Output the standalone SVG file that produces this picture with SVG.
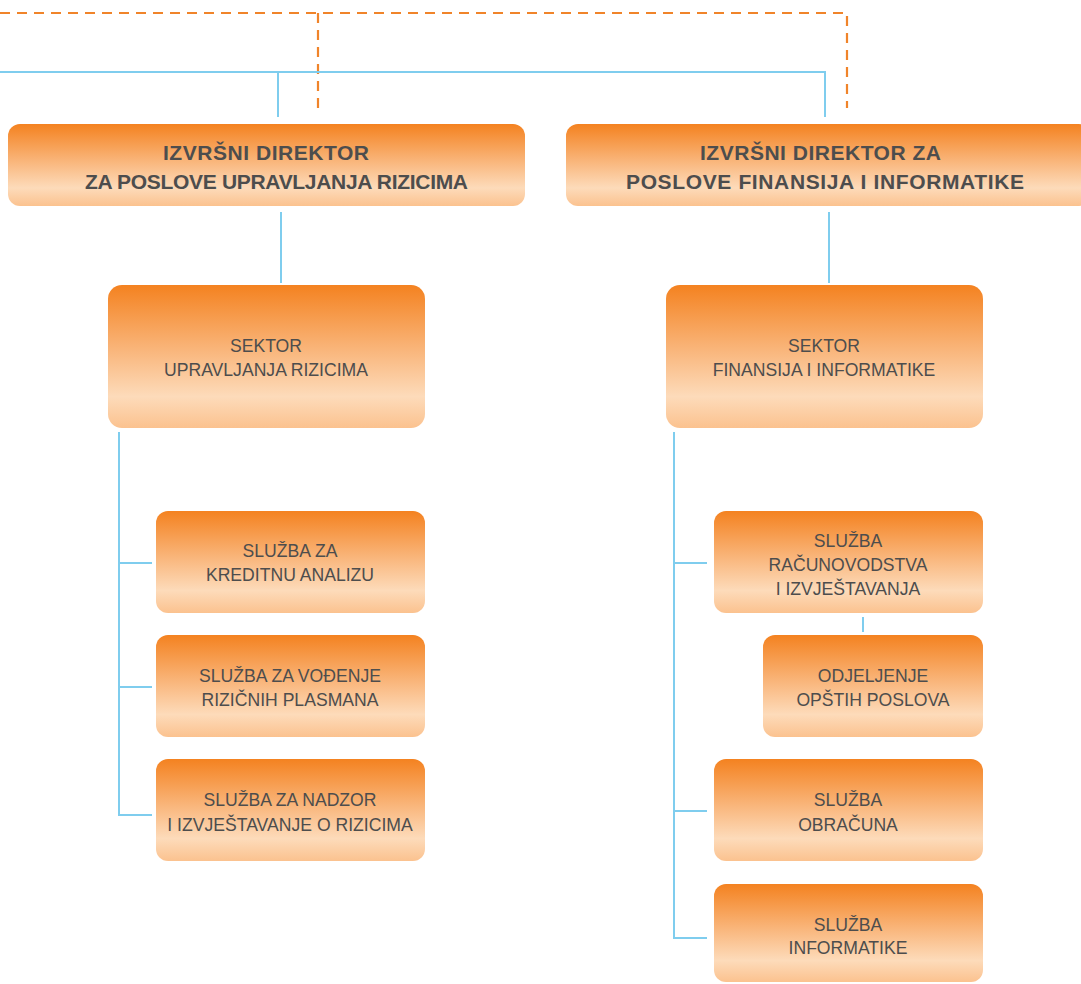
<svg xmlns="http://www.w3.org/2000/svg" width="1081" height="984" viewBox="0 0 1081 984">
<defs>
<linearGradient id="g" x1="0" y1="0" x2="0" y2="1">
<stop offset="0" stop-color="#F48220"/>
<stop offset="0.45" stop-color="#F9B57A"/>
<stop offset="0.78" stop-color="#FDDBBA"/>
<stop offset="1" stop-color="#FBC28F"/>
</linearGradient>
<style>
.box{fill:url(#g);}
.t{font-family:"Liberation Sans",Arial,sans-serif;fill:#4D4D4D;text-anchor:middle;}
.h{font-size:21px;font-weight:bold;}
.n{font-size:17.6px;}
.c{fill:none;stroke:#7FCDEE;stroke-width:2;}
.d{fill:none;stroke:#F0842A;stroke-width:2.2;stroke-dasharray:10 7;}
</style>
</defs>
<rect width="1081" height="984" fill="#FFFFFF"/>
<g id="connectors">
<path class="d" d="M0 13 H847 V108"/>
<path class="d" d="M318 13 V112"/>
<path class="c" d="M0 72 H825 V117"/>
<path class="c" d="M278 72 V117"/>
<path class="c" d="M281 212 V283"/>
<path class="c" d="M829 212 V283"/>
<path class="c" d="M119 432 V815 H152"/>
<path class="c" d="M119 563 H152"/>
<path class="c" d="M119 687 H152"/>
<path class="c" d="M674 432 V938 H707"/>
<path class="c" d="M674 563 H707"/>
<path class="c" d="M674 811 H707"/>
<path class="c" d="M863 617 V632"/>
</g>
<g id="n1"><rect class="box" x="8" y="124" width="517" height="82" rx="12"/>
<text class="t h" x="266" y="160" textLength="206">IZVRŠNI DIREKTOR</text>
<text class="t h" x="276.5" y="189" textLength="383">ZA POSLOVE UPRAVLJANJA RIZICIMA</text></g>
<g id="n2"><rect class="box" x="566" y="124" width="525" height="82" rx="12"/>
<text class="t h" x="820.5" y="160" textLength="241">IZVRŠNI DIREKTOR ZA</text>
<text class="t h" x="825" y="189" textLength="398">POSLOVE FINANSIJA I INFORMATIKE</text></g>
<g id="n3"><rect class="box" x="108" y="285" width="317" height="143" rx="14"/>
<text class="t n" x="266" y="352">SEKTOR</text>
<text class="t n" x="266" y="376">UPRAVLJANJA RIZICIMA</text></g>
<g id="n4"><rect class="box" x="666" y="285" width="317" height="143" rx="14"/>
<text class="t n" x="824" y="352">SEKTOR</text>
<text class="t n" x="824" y="376">FINANSIJA I INFORMATIKE</text></g>
<g id="n5"><rect class="box" x="156" y="511" width="269" height="102" rx="12"/>
<text class="t n" x="290" y="557">SLUŽBA ZA</text>
<text class="t n" x="290" y="581">KREDITNU ANALIZU</text></g>
<g id="n6"><rect class="box" x="156" y="635" width="269" height="102" rx="12"/>
<text class="t n" x="290" y="682">SLUŽBA ZA VOĐENJE</text>
<text class="t n" x="290" y="706">RIZIČNIH PLASMANA</text></g>
<g id="n7"><rect class="box" x="156" y="759" width="269" height="102" rx="12"/>
<text class="t n" x="290" y="806">SLUŽBA ZA NADZOR</text>
<text class="t n" x="290" y="831">I IZVJEŠTAVANJE O RIZICIMA</text></g>
<g id="n8"><rect class="box" x="714" y="511" width="269" height="102" rx="12"/>
<text class="t n" x="848" y="547">SLUŽBA</text>
<text class="t n" x="848" y="571">RAČUNOVODSTVA</text>
<text class="t n" x="848" y="595">I IZVJEŠTAVANJA</text></g>
<g id="n9"><rect class="box" x="763" y="635" width="220" height="102" rx="12"/>
<text class="t n" x="873" y="682">ODJELJENJE</text>
<text class="t n" x="873" y="706">OPŠTIH POSLOVA</text></g>
<g id="n10"><rect class="box" x="714" y="759" width="269" height="102" rx="12"/>
<text class="t n" x="848" y="806">SLUŽBA</text>
<text class="t n" x="848" y="831">OBRAČUNA</text></g>
<g id="n11"><rect class="box" x="714" y="884" width="269" height="98" rx="12"/>
<text class="t n" x="848" y="931">SLUŽBA</text>
<text class="t n" x="848" y="954">INFORMATIKE</text></g>
</svg>
